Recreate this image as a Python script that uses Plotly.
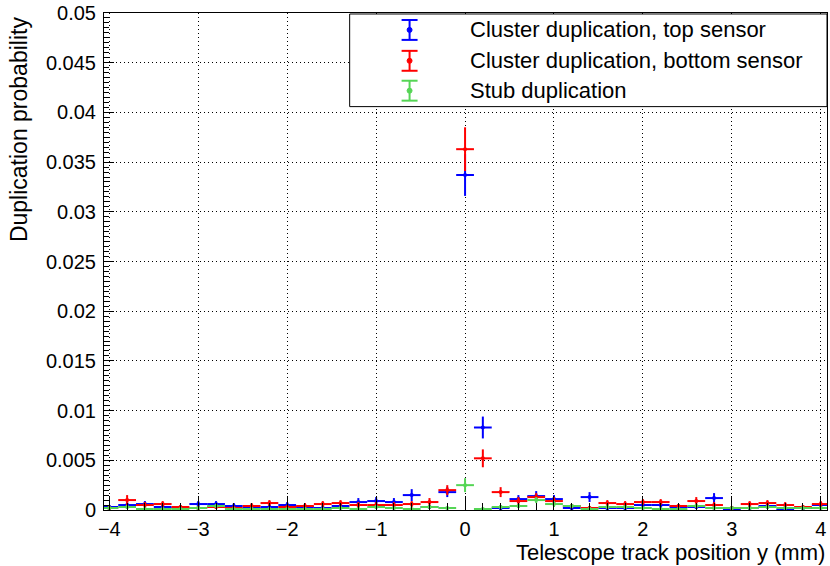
import plotly.graph_objects as go

# ---------------- data ----------------
bin_centers = [-4.0, -3.8, -3.6, -3.4, -3.2, -3.0, -2.8, -2.6, -2.4, -2.2,
               -2.0, -1.8, -1.6, -1.4, -1.2, -1.0, -0.8, -0.6, -0.4, -0.2,
               0.0, 0.2, 0.4, 0.6, 0.8, 1.0, 1.2, 1.4, 1.6, 1.8,
               2.0, 2.2, 2.4, 2.6, 2.8, 3.0, 3.2, 3.4, 3.6, 3.8, 4.0]
bin_width = 0.2

top_sensor = [0.0003, 0.0005, 0.0006, 0.0003, 0.0002, 0.0006, 0.0006, 0.0004, 0.0002, 0.0003,
              0.0005, 0.0003, 0.0002, 0.0004, 0.0008, 0.0009, 0.0008, 0.0015, 0.0003, 0.0018,
              0.0337, 0.0083, 0.0002, 0.0011, 0.0014, 0.0011, 0.0002, 0.0013, 0.0002, 0.0002,
              0.0005, 0.0005, 0.0003, 0.0003, 0.0012, 0.0000, 0.0002, 0.0004, 0.0000, 0.0002, 0.0005]
top_sensor_err = [0.0002, 0.0003, 0.0003, 0.0002, 0.0002, 0.0003, 0.0003, 0.0003, 0.0002, 0.0002,
                  0.0003, 0.0002, 0.0002, 0.0003, 0.0004, 0.0004, 0.0004, 0.0006, 0.0002, 0.0005,
                  0.0021, 0.0011, 0.0002, 0.0004, 0.0005, 0.0004, 0.0002, 0.0005, 0.0002, 0.0002,
                  0.0003, 0.0003, 0.0002, 0.0002, 0.0005, 0.0001, 0.0002, 0.0003, 0.0001, 0.0002, 0.0003]

bottom_sensor = [0.0002, 0.0010, 0.0005, 0.0006, 0.0003, 0.0002, 0.0003, 0.0002, 0.0004, 0.0007,
                 0.0003, 0.0004, 0.0006, 0.0007, 0.0005, 0.0005, 0.0005, 0.0006, 0.0008, 0.0020,
                 0.0363, 0.0052, 0.0018, 0.0009, 0.0013, 0.0009, 0.0004, 0.0002, 0.0007, 0.0006,
                 0.0008, 0.0008, 0.0004, 0.0009, 0.0005, 0.0002, 0.0006, 0.0007, 0.0005, 0.0003, 0.0006]
bottom_sensor_err = [0.0002, 0.0005, 0.0003, 0.0003, 0.0002, 0.0002, 0.0002, 0.0002, 0.0003, 0.0003,
                     0.0002, 0.0003, 0.0003, 0.0003, 0.0003, 0.0003, 0.0003, 0.0003, 0.0004, 0.0005,
                     0.0022, 0.0009, 0.0005, 0.0004, 0.0004, 0.0004, 0.0002, 0.0002, 0.0003, 0.0003,
                     0.0003, 0.0003, 0.0002, 0.0004, 0.0003, 0.0002, 0.0003, 0.0003, 0.0003, 0.0002, 0.0003]

stub = [0.0002, 0.0003, 0.0001, 0.0001, 0.0001, 0.0002, 0.0004, 0.0001, 0.0001, 0.0001,
        0.0001, 0.0001, 0.0001, 0.0002, 0.0001, 0.0003, 0.0002, 0.0001, 0.0003, 0.0002,
        0.0025, 0.0001, 0.0003, 0.0004, 0.0010, 0.0006, 0.0004, 0.0001, 0.0003, 0.0003,
        0.0002, 0.0001, 0.0001, 0.0004, 0.0002, 0.0002, 0.0002, 0.0003, 0.0002, 0.0002, 0.0002]
stub_err = [0.0001, 0.0002, 0.0001, 0.0001, 0.0001, 0.0001, 0.0002, 0.0001, 0.0001, 0.0001,
            0.0001, 0.0001, 0.0001, 0.0001, 0.0001, 0.0002, 0.0001, 0.0001, 0.0002, 0.0001,
            0.0007, 0.0001, 0.0002, 0.0002, 0.0003, 0.0003, 0.0002, 0.0001, 0.0002, 0.0002,
            0.0001, 0.0001, 0.0001, 0.0002, 0.0001, 0.0001, 0.0001, 0.0002, 0.0001, 0.0001, 0.0001]

series_names = ["Cluster duplication, top sensor",
                "Cluster duplication, bottom sensor",
                "Stub duplication"]
series_values = [top_sensor, bottom_sensor, stub]
series_errors = [top_sensor_err, bottom_sensor_err, stub_err]
series_colors = ["#0000ff", "#ff0000", "#55d555"]

x_tick_values = [-4, -3, -2, -1, 0, 1, 2, 3, 4]
x_tick_labels = ["\u22124", "\u22123", "\u22122", "\u22121", "0", "1", "2", "3", "4"]
y_tick_values = [0, 0.005, 0.01, 0.015, 0.02, 0.025, 0.03, 0.035, 0.04, 0.045, 0.05]
y_tick_labels = ["0", "0.005", "0.01", "0.015", "0.02", "0.025", "0.03", "0.035", "0.04", "0.045", "0.05"]

x_title = "Telescope track position y (mm)"
y_title = "Duplication probability"

# ---------------- layout geometry (pixels) ----------------
W, H = 830, 566
ML, MR, MT, MB = 104, 2, 11, 56
PW, PH = W - ML - MR, H - MT - MB
FONT = "Liberation Sans, Arial, Helvetica, sans-serif"
TICK_SIZE = 20
TEXT_SIZE = 22
TITLE_SIZE = 23


def px_x(p):
    return (p - ML) / PW


def px_y(p):
    return (H - MB - p) / PH


fig = go.Figure()
for name, vals, errs, col in zip(series_names, series_values, series_errors, series_colors):
    fig.add_trace(go.Scatter(
        x=bin_centers, y=vals, mode="markers", name=name,
        marker=dict(size=4, color=col),
        error_y=dict(type="data", array=errs, color=col, thickness=2, width=0),
        error_x=dict(type="constant", value=bin_width / 2, color=col, thickness=2, width=0),
        showlegend=False, cliponaxis=True,
    ))

axis_common = dict(
    showline=True, linecolor="black", linewidth=1, mirror=True,
    ticks="inside", tickcolor="black",
    showgrid=True, gridcolor="black", gridwidth=1, griddash="1px,3px",
    zeroline=False,
    tickfont=dict(family=FONT, size=TICK_SIZE, color="black"),
)

fig.update_xaxes(
    range=[-4.06, 4.07], tickmode="array", tickvals=x_tick_values, ticktext=x_tick_labels,
    ticklen=14,
    minor=dict(dtick=0.2, tick0=0, ticklen=7, ticks="inside", tickcolor="black", showgrid=False),
    ticklabelstandoff=1,
    **axis_common,
)
fig.update_yaxes(
    range=[0, 0.05], tickmode="array", tickvals=y_tick_values, ticktext=y_tick_labels,
    ticklen=10,
    minor=dict(dtick=0.0005, tick0=0, ticklen=5, ticks="inside", tickcolor="black", showgrid=False),
    ticklabelstandoff=3,
    **axis_common,
)

annotations = [
    dict(text=x_title, xref="paper", yref="paper", x=1.0, y=px_y(553),
         xanchor="right", yanchor="middle", showarrow=False,
         font=dict(family=FONT, size=TEXT_SIZE, color="black")),
    dict(text=y_title, xref="paper", yref="paper", x=px_x(19), y=px_y(12),
         xanchor="center", yanchor="top", textangle=-90, showarrow=False,
         font=dict(family=FONT, size=TITLE_SIZE, color="black")),
]

shapes = [
    dict(type="rect", xref="paper", yref="paper",
         x0=px_x(350), x1=px_x(828), y0=px_y(12), y1=px_y(105),
         line=dict(color="black", width=1), fillcolor="white", layer="above"),
]

row_y = [28, 59, 89]
sym_x = 410
for name, col, ry in zip(series_names, series_colors, row_y):
    shapes.append(dict(type="line", xref="paper", yref="paper",
                       x0=px_x(sym_x), x1=px_x(sym_x), y0=px_y(ry - 10), y1=px_y(ry + 10),
                       line=dict(color=col, width=2), layer="above"))
    for dy in (-10, 10):
        shapes.append(dict(type="line", xref="paper", yref="paper",
                           x0=px_x(sym_x - 8), x1=px_x(sym_x + 8), y0=px_y(ry + dy), y1=px_y(ry + dy),
                           line=dict(color=col, width=2), layer="above"))
    shapes.append(dict(type="circle", xref="paper", yref="paper",
                       x0=px_x(sym_x - 2.5), x1=px_x(sym_x + 2.5), y0=px_y(ry - 2.5), y1=px_y(ry + 2.5),
                       line=dict(color=col, width=1), fillcolor=col, layer="above"))
    annotations.append(dict(text=name, xref="paper", yref="paper", x=px_x(469), y=px_y(ry),
                            xanchor="left", yanchor="middle", showarrow=False,
                            font=dict(family=FONT, size=TEXT_SIZE, color="black")))

fig.update_layout(
    width=W, height=H,
    margin=dict(l=ML, r=MR, t=MT, b=MB, pad=0),
    paper_bgcolor="white", plot_bgcolor="white",
    shapes=shapes, annotations=annotations,
    showlegend=False, hovermode=False,
    font=dict(family=FONT, color="black"),
)

fig.write_html(
    "out.html",
    config={"displayModeBar": False},
    post_script="document.body.style.margin='0';document.body.style.padding='0';",
)
